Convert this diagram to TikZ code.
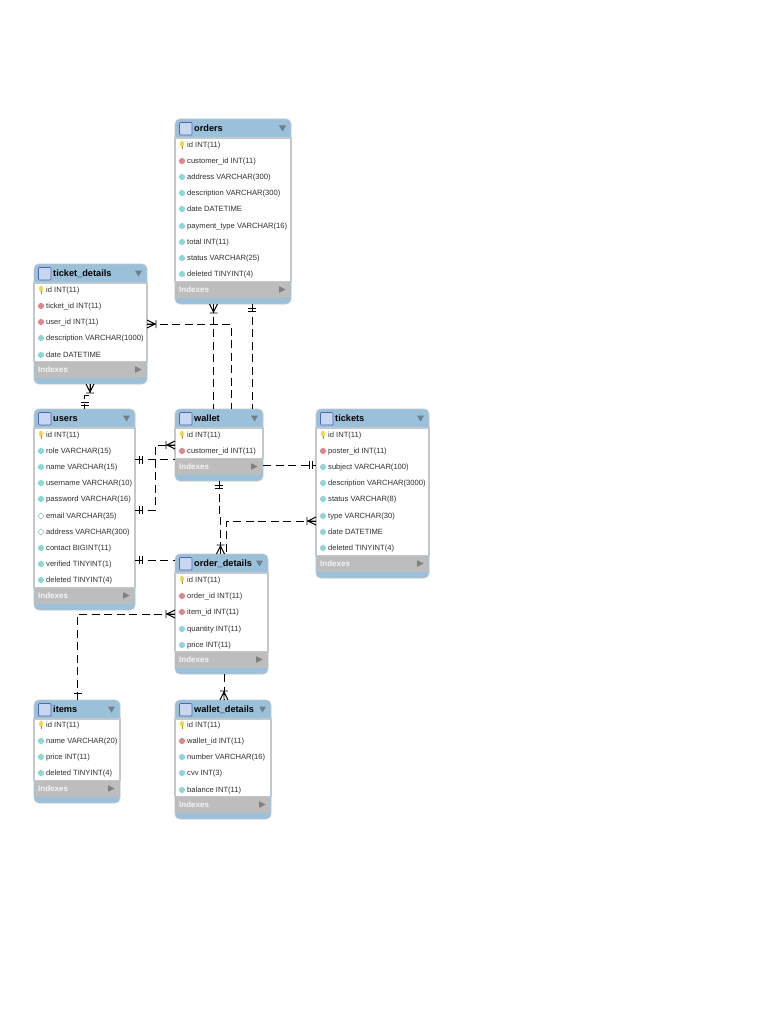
\documentclass[tikz,border=0pt]{standalone}
\usepackage{fontspec}
\setmainfont{Liberation Sans}
\usetikzlibrary{decorations.markings}
\definecolor{hdr}{HTML}{9BC0DA}
\definecolor{band}{HTML}{BDBDBD}
\definecolor{edge}{HTML}{C2C8CE}
\definecolor{ink}{HTML}{303030}
\definecolor{tri}{HTML}{6E7F8C}
\definecolor{fkc}{HTML}{D98A8A}
\definecolor{colc}{HTML}{8FD6DA}
\definecolor{keyc}{HTML}{F5D44A}
\definecolor{winf}{HTML}{C9D6F0}
\definecolor{wind}{HTML}{4A68B8}
\tikzset{
  x=1pt,y=-1pt,
  tablebox/.style={draw=edge,line width=.8pt,fill=hdr,rounded corners=5pt,inner sep=0pt,outer sep=0pt},
  titletext/.style={anchor=base west,inner sep=0pt,font=\fontsize{9.2}{10}\selectfont\bfseries,text=black},
  rowtext/.style={anchor=base west,inner sep=0pt,font=\fontsize{7.6}{9}\selectfont,text=ink},
  idxtext/.style={anchor=base west,inner sep=0pt,font=\fontsize{8}{9}\selectfont\bfseries,text=white!92!gray},
  bodyrect/.style={fill=white,draw=edge,line width=1.3pt},
  bandrect/.style={fill=band},
  winicon/.style={fill=winf,draw=wind,line width=.7pt,rounded corners=1pt},
  rel/.style={draw=black,line width=.95pt,dash pattern=on 8pt off 4.5pt},
  barmark/.style={draw=black,line width=.95pt,solid},
  from one/.style={postaction={decorate,decoration={markings,
    mark=at position 4pt with {\draw[barmark] (0,-4)--(0,4);},
    mark=at position 7pt with {\draw[barmark] (0,-4)--(0,4);}}}},
  to one/.style={postaction={decorate,decoration={markings,
    mark=at position -7pt with {\draw[barmark] (0,-4)--(0,4);},
    mark=at position -4pt with {\draw[barmark] (0,-4)--(0,4);}}}},
  from bar/.style={postaction={decorate,decoration={markings,
    mark=at position 7pt with {\draw[barmark] (0,-4)--(0,4);}}}},
  from many/.style={postaction={decorate,decoration={markings,
    mark=at position 8pt with {\draw[barmark] (-8,-4)--(0,0)--(-8,4) (-8,0)--(0,0) (1,-4)--(1,4);}}}},
  to many/.style={postaction={decorate,decoration={markings,
    mark=at position -8pt with {\draw[barmark] (8,-4)--(0,0)--(8,4) (8,0)--(0,0) (-1,-4)--(-1,4);}}}},
}
% #1 name #2 x1 #3 y1 #4 x2 #5 y2 #6 title #7 rows
\newcommand{\dbtable}[7]{%
  \pgfmathsetmacro{\tw}{#4-#2}\pgfmathsetmacro{\th}{#5-#3}%
  \pgfmathsetmacro{\cx}{(#2+#4)/2}\pgfmathsetmacro{\cy}{(#3+#5)/2}%
  \node[tablebox,minimum width=\tw pt,minimum height=\th pt] (#1) at (\cx,\cy) {};%
  \fill[bodyrect] (#2,#3+19) rectangle (#4,#5-22.5);%
  \fill[bandrect] (#2+.6,#5-22.5) rectangle (#4-.6,#5-6.5);%
  \fill[winicon] (#2+4.5,#3+3.5) rectangle (#2+17,#3+16);%
  \fill[draw=none,fill=tri] (#4-12,#3+6.5) -- (#4-5,#3+6.5) -- (#4-8.5,#3+12.5) -- cycle;%
  \node[titletext] (#1-title) at (#2+19,#3+12.4) {#6};%
  \node[idxtext] (#1-idx) at (#2+4,#5-11.6) {Indexes};%
  \fill[gray] (#4-12,#5-17.8) -- (#4-5.5,#5-14.5) -- (#4-12,#5-11.2) -- cycle;%
  \foreach \kd/\ry/\txt [count=\ri] in {#7}{%
    \csname icon\kd\endcsname{#2+7}{\ry}%
    \node[rowtext] (#1-r\ri) at (#2+12,\ry+2.8) {\txt};%
  }%
}
\newcommand{\iconk}[2]{\fill[keyc] (#1,#2-1.2) ellipse [x radius=2,y radius=3.2]; \fill[keyc!70!black] (#1-.5,#2+1) rectangle (#1+.5,#2+4);}
\newcommand{\icondia}[3]{\fill[#3,rounded corners=.8pt] (#1-3.8,#2) -- (#1,#2-3.8) -- (#1+3.8,#2) -- (#1,#2+3.8) -- cycle;}
\newcommand{\iconf}[2]{\icondia{#1}{#2}{fkc}}
\newcommand{\iconc}[2]{\icondia{#1}{#2}{colc}}
\newcommand{\iconn}[2]{\filldraw[fill=white,draw=colc!70!gray,line width=.5pt] (#1-3.3,#2) -- (#1,#2-3.3) -- (#1+3.3,#2) -- (#1,#2+3.3) -- cycle;}
\begin{document}
\begin{tikzpicture}
\useasboundingbox (0,0) rectangle (768,1024);
\fill[white] (0,0) rectangle (768,1024);

\dbtable{orders}{175}{119}{291}{304}{orders}{k/145/id INT(11),f/161/customer\_id INT(11),c/177/address VARCHAR(300),c/193/description VARCHAR(300),c/209/date DATETIME,c/226/payment\_type VARCHAR(16),c/242/total INT(11),c/258/status VARCHAR(25),c/274/deleted TINYINT(4)}
\dbtable{ticketdetails}{34}{264}{147}{384}{ticket\_details}{k/290/id INT(11),f/306/ticket\_id INT(11),f/322/user\_id INT(11),c/338/description VARCHAR(1000),c/355/date DATETIME}
\dbtable{users}{34}{409}{135}{610}{users}{k/435/id INT(11),c/451/role VARCHAR(15),c/467/name VARCHAR(15),c/483/username VARCHAR(10),c/499/password VARCHAR(16),n/516/email VARCHAR(35),n/532/address VARCHAR(300),c/548/contact BIGINT(11),c/564/verified TINYINT(1),c/580/deleted TINYINT(4)}
\dbtable{wallet}{175}{409}{263}{481}{wallet}{k/435/id INT(11),f/451/customer\_id INT(11)}
\dbtable{tickets}{316}{409}{429}{578}{tickets}{k/435/id INT(11),f/451/poster\_id INT(11),c/467/subject VARCHAR(100),c/483/description VARCHAR(3000),c/499/status VARCHAR(8),c/516/type VARCHAR(30),c/532/date DATETIME,c/548/deleted TINYINT(4)}
\dbtable{orderdetails}{175}{554}{268}{674}{order\_details}{k/580/id INT(11),f/596/order\_id INT(11),f/612/item\_id INT(11),c/629/quantity INT(11),c/645/price INT(11)}
\dbtable{items}{34}{700}{120}{803}{items}{k/725/id INT(11),c/741/name VARCHAR(20),c/757/price INT(11),c/773/deleted TINYINT(4)}
\dbtable{walletdetails}{175}{700}{271}{819}{wallet\_details}{k/725/id INT(11),f/741/wallet\_id INT(11),c/757/number VARCHAR(16),c/773/cvv INT(3),c/790/balance INT(11)}

\draw[rel,from many] ([xshift=38.5pt]orders.south west) -- ([xshift=38.5pt]wallet.north west);
\draw[rel,from one] ([xshift=77pt]orders.south west) -- ([xshift=77pt]wallet.north west);
\draw[rel,from many] ([yshift=-60pt]ticketdetails.north east) -| ([xshift=56pt]wallet.north west);
\draw[rel,from many,to one] ([xshift=56pt]ticketdetails.south west) -- ++(0,11.5) -| ([xshift=50.5pt]users.north west);
\draw[rel,from one] ([yshift=-50.5pt]users.north east) -- ([yshift=-50.5pt]wallet.north west);
\draw[rel,from one,to many] ([yshift=-101pt]users.north east) -- ++(20,0) |- ([yshift=-36pt]wallet.north west);
\draw[rel,to one] ([yshift=-56pt]wallet.north east) -- ([yshift=-56pt]tickets.north west);
\draw[rel,from one,to many] ([xshift=44pt]wallet.south west) -- ++(0,36) -- ++(1.5,0) |- ([xshift=45.5pt]orderdetails.north west);
\draw[rel,from many] ([yshift=-112pt]tickets.north west) -| ([xshift=51pt]orderdetails.north west);
\draw[rel,from one] ([yshift=-151pt]users.north east) -- ([yshift=-6pt]orderdetails.north west);
\draw[rel,from bar,to many] ([xshift=43.5pt]items.north west) |- ([yshift=-60pt]orderdetails.north west);
\draw[rel,to many] ([xshift=49pt]orderdetails.south west) -- ([xshift=49pt]walletdetails.north west);
\end{tikzpicture}
\end{document}
